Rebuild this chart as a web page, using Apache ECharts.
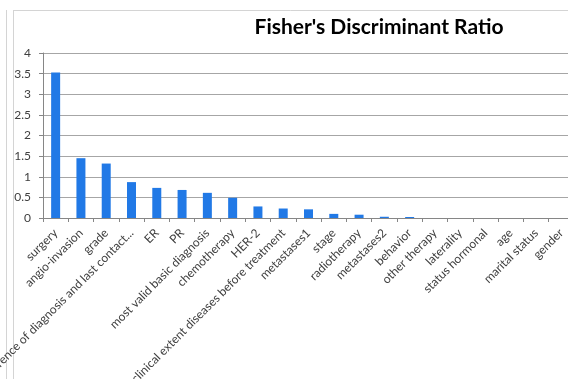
<!DOCTYPE html>
<html>
<head>
<meta charset="utf-8">
<script src="https://cdn.jsdelivr.net/npm/echarts@6/dist/echarts.min.js"></script>
<style>
  html, body { margin: 0; padding: 0; background: #fff; }
  #chart { width: 568px; height: 379px; }
</style>
</head>
<body>
<div id="chart"></div>
<script>
const features = [
  'surgery', 'angio-invasion', 'grade', 'difference of diagnosis and last contact...',
  'ER', 'PR', 'most valid basic diagnosis', 'chemotherapy', 'HER-2',
  'clinical extent diseases before treatment', 'metastases1', 'stage', 'radiotherapy',
  'metastases2', 'behavior', 'other therapy', 'laterality', 'status hormonal',
  'age', 'marital status', 'gender'
];
const ratios = [
  3.53, 1.45, 1.32, 0.87, 0.73, 0.68, 0.61, 0.49, 0.28,
  0.23, 0.21, 0.1, 0.08, 0.03, 0.025, 0, 0, 0, 0, 0, 0
];
const yTicks = [0, 4, 0.5];

const chart = echarts.init(document.getElementById('chart'));

const option = {
  backgroundColor: '#fff',
  animation: false,
  title: {
    text: "Fisher's Discriminant Ratio",
    left: 374,
    top: 12,
    textAlign: 'center',
    textStyle: { fontFamily: 'Lato', fontSize: 21, fontWeight: 'bold', color: '#000' }
  },
  grid: { left: 43, top: 53, width: 531, height: 165, containLabel: false, outerBoundsMode: 'none' },
  xAxis: {
    type: 'category',
    data: features,
    axisLine: { lineStyle: { color: '#868686', width: 1 } },
    axisTick: { show: true, length: 4, alignWithLabel: false, lineStyle: { color: '#868686' } },
    axisLabel: {
      interval: 0,
      rotate: 45,
      margin: 13,
      fontFamily: 'Lato',
      fontSize: 12,
      color: '#404040'
    }
  },
  yAxis: {
    type: 'value',
    min: yTicks[0],
    max: yTicks[1],
    interval: yTicks[2],
    axisLine: { show: true, lineStyle: { color: '#868686' } },
    axisTick: { show: true, length: 4, lineStyle: { color: '#868686' } },
    splitLine: { lineStyle: { color: '#a6a6a6', width: 1 } },
    axisLabel: { margin: 12, fontFamily: 'Lato', fontSize: 12, color: '#404040' }
  },
  series: [{
    type: 'bar',
    data: ratios,
    barWidth: 9,
    itemStyle: { color: '#2179e6' }
  }],
  graphic: [
    { type: 'line', shape: { x1: 6.5, y1: 10, x2: 6.5, y2: 379 }, style: { stroke: '#d4d4d4', lineWidth: 1 } },
    { type: 'line', shape: { x1: 13.5, y1: 10, x2: 13.5, y2: 379 }, style: { stroke: '#d4d4d4', lineWidth: 1 } },
    { type: 'line', shape: { x1: 13.5, y1: 10.5, x2: 568, y2: 10.5 }, style: { stroke: '#d4d4d4', lineWidth: 1 } }
  ]
};

chart.setOption(option);
</script>
</body>
</html>
